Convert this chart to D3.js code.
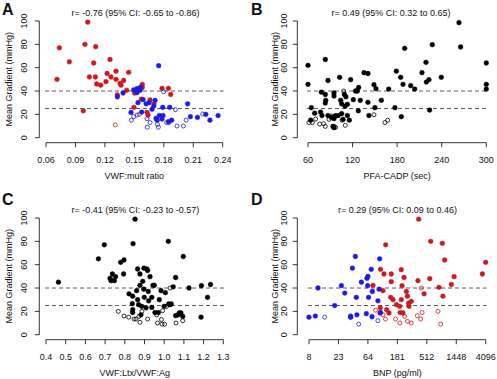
<!DOCTYPE html>
<html>
<head>
<meta charset="utf-8">
<script src="https://cdn.jsdelivr.net/npm/d3@7"></script>
<style>
  body { margin: 0; background: #fff; }
  svg text { font-family: "Liberation Sans", Arial, sans-serif; fill: #111; }
</style>
</head>
<body>
<svg id="chart" width="497" height="379"></svg>
<script>
// ---- data ----
// panel A: VWF:mult ratio vs mean gradient
var aRedFilled = [[0.0736,77],[0.1025,99],[0.0838,65],[0.0712,50],[0.0997,80],[0.1106,78],[0.1086,64],
  [0.1042,52],[0.1103,52],[0.1116,46],[0.1157,45],[0.1211,48],[0.1222,55],[0.1252,67],[0.1262,52],
  [0.1313,57],[0.1313,50],[0.1354,46.6],[0.1364,45],[0.1391,49],[0.1442,56],[0.1422,40.6],[0.098,23],
  [0.1327,36.6],[0.1503,38.3],[0.1496,26],[0.1581,45.7],[0.1581,43],[0.1571,33],[0.166,32.3],[0.1701,29],
  [0.1629,21.7],[0.164,19.4],[0.1782,42.3],[0.1847,42.3],[0.187,37]];
var aRedOpen = [[0.1306,11],[0.155,20]];
var aBlueFilled = [[0.1748,61.7],[0.1493,41],[0.1527,42],[0.155,42],[0.1561,43],[0.1527,38.6],[0.1558,40.6],
  [0.1385,38.3],[0.1327,35],[0.1537,30],[0.1589,32.6],[0.162,29],[0.165,30],[0.1711,32],[0.1697,27],
  [0.168,24.3],[0.1789,26],[0.186,26],[0.2043,29],[0.1466,21.7],[0.1575,22],[0.1755,19],[0.1792,19],
  [0.1721,16.6],[0.1732,15],[0.1782,16],[0.188,15],[0.1847,13.7],[0.2071,18],[0.2143,17.4],[0.2228,20],
  [0.227,15],[0.2353,19]];
var aBlueOpen = [[0.1799,39.4],[0.1469,15],[0.1493,18],[0.1527,19.4],[0.1629,16.3],[0.166,13],[0.1632,9],
  [0.1735,11.4],[0.1745,9],[0.1829,13],[0.1853,13],[0.1918,24],[0.1935,10],[0.2,10],[0.2027,15],[0.2196,20.3]];

// panel B: PFA-CADP (sec) vs mean gradient
var bFilled = [[60,62],[60,45.7],[64.5,25.7],[63.6,15],[83.3,67],[86.9,49],[102.6,51.7],[78,39],[83.8,32],
  [83.3,29.7],[83.3,37],[95,35.7],[95,38.3],[109,37],[111,35],[104,32],[105.3,29],[110,27],[113,28.6],
  [117.4,49.7],[121,32.6],[124,40],[126.4,40],[128.2,43],[127.7,23],[130.4,32],[135.4,55.7],[140.7,55],
  [140.7,30.3],[142,19],[148.8,45.4],[151.5,42],[150,25.7],[158.7,32],[168.6,41.7],[178.9,57],[177,25.7],
  [184.7,51.7],[185.6,18],[187.9,45.7],[190.1,76.6],[198.2,44.6],[203.6,41.7],[213.4,55.7],[218.8,64.6],
  [219.3,47.7],[222.8,49.7],[223.7,23.7],[227.3,79.7],[239.4,51.7],[263.2,98.6],[265.4,77.7],[300,64],
  [300,45.7],[300,41.7],[69,21],[77,22],[78.8,19],[86.9,19],[91.4,17.4],[95,16.3],[96.8,18.6],[100.8,19],
  [105.3,20.6],[107.2,15.7],[113,19],[115.6,15],[93.6,9.7],[95,8.6]];
var bOpen = [[61.3,13],[65.8,13],[70.3,16],[75.7,11.7],[81,12],[83.3,9.7],[88.3,15.7],[91.4,18.6],
  [97.2,19],[95,9.7],[97.2,8.9],[105.8,15],[108,40],[110.2,10.6],[148.8,19.7],[163.6,13],[167.2,15]];

// panel C: VWF:Ltx/VWF:Ag vs mean gradient
var cFilled = [[0.463,45],[0.666,65],[0.696,77],[0.725,48.3],[0.73,46.3],[0.737,52],[0.753,49.7],[0.747,46.3],
  [0.779,62],[0.796,64],[0.794,52],[0.821,35],[0.84,33],[0.838,26.6],[0.84,21.4],[0.84,19],[0.842,78],
  [0.852,99],[0.865,56.3],[0.86,37.7],[0.865,30],[0.87,25.7],[0.877,52],[0.877,42.3],[0.882,17],
  [0.891,45.7],[0.886,24.3],[0.897,57],[0.896,39],[0.899,32],[0.911,56.3],[0.908,23],[0.916,55],
  [0.919,37],[0.921,29],[0.928,49.7],[0.937,32],[0.937,23.4],[0.943,42.3],[0.95,42.3],[0.953,19],
  [0.97,19],[0.975,30],[0.984,37.7],[1.006,36],[1.0,24.3],[1.021,80],[1.023,26.3],[1.03,25.7],
  [1.036,26.3],[1.046,41],[1.058,49],[1.058,16.3],[1.07,17],[1.077,18.6],[1.085,18.6],[1.094,15.7],
  [1.097,67],[1.126,40],[1.189,42],[1.187,15],[1.22,32],[1.235,43]];
var cOpen = [[0.767,20],[0.796,16],[0.82,15],[0.847,13.4],[0.857,13.4],[0.872,15.7],[0.877,10.6],
  [0.887,20],[0.916,13.4],[0.962,17],[0.966,10],[0.986,13],[0.989,9],[1.002,9],[0.992,20.6],
  [1.012,24.3],[1.03,40],[1.06,10],[1.094,12]];

// panel D: BNP (pg/ml) vs mean gradient
var dBlueFilled = [[8,15],[10,16],[11,40],[19.8,25],[25.1,42],[28.3,35.7],[34.8,16],[34.8,15],[37,57],
  [41.1,67],[42.5,32],[50.9,45],[43.4,17],[60.5,18],[62,48.3],[64,50],[63.4,42],[65.6,32],[72,56],
  [74.8,37],[74,15.4],[91.2,29],[97,65],[95,39],[100,19]];
var dBlueOpen = [[13.9,15],[34.8,15],[46.2,9],[91,12]];
var dRedFilled = [[76.6,42.3],[100,56],[112.8,52],[109,37.7],[99.4,23],[98,18.6],[119.8,77],[124,21.4],
  [134.8,18.6],[146,52],[146,45.4],[143,32],[155,30],[175,25.7],[196.6,24.3],[208,55.7],[213.6,42],
  [229,49],[208,30],[221,18.6],[200,19],[249,37],[258,33],[270.6,27],[273,24.3],[296,28.6],[374,46.3],
  [385,99],[465,35],[568,48],[588,80],[787,40.6],[885,78.3],[904,33],[962,64],[1218,43],[1341,49.7],
  [3640,52],[4096,62]];
var dRedOpen = [[84,21],[109,17],[119,13.4],[170,13.4],[198,10],[234,15.7],[258,11.4],[296,10],
  [367,16.3],[413,13.4],[422,40],[433,19],[760,20],[837,9]];

// ticks and labels
var yTicks = [0, 20, 40, 60, 80, 100];
var cutoffs = [25, 40];
var aTicks = [0.06, 0.09, 0.12, 0.15, 0.18, 0.21, 0.24];
var bTicks = [60, 120, 180, 240, 300];
var cTicks = [0.4, 0.5, 0.6, 0.7, 0.8, 0.9, 1.0, 1.1, 1.2, 1.3];
var dTicks = [8, Math.pow(2, 4.5), 64, Math.pow(2, 7.5), 512, Math.pow(2, 10.5), 4096];
var titles = ["r= -0.76 (95% CI: -0.65 to -0.86)", "r= 0.49 (95% CI: 0.32 to 0.65)",
              "r= -0.41 (95% CI: -0.23 to -0.57)", "r= 0.29 (95% CI: 0.09 to 0.46)"];
var xTitles = ["VWF:mult ratio", "PFA-CADP (sec)", "VWF:Ltx/VWF:Ag", "BNP (pg/ml)"];
var letters = ["A", "B", "C", "D"];

var RED = "#c91b1f", BLUE = "#1c1ce0", BLACK = "#000";

var svg = d3.select("#chart");

var panels = [
  { x: d3.scaleLinear().domain([0.06, 0.24]).range([46, 222.7]), ticks: aTicks, fmt: d3.format(".2f"),
    top: 0, letterY: 14.5, letterX: 2, spineX: 39.3, tickLabX: 24, yTitleX: 8.5, titleX: 135.5,
    series: [[aRedFilled, RED, true], [aRedOpen, RED, false], [aBlueFilled, BLUE, true], [aBlueOpen, BLUE, false]] },
  { x: d3.scaleLinear().domain([60, 300]).range([308, 486.3]), ticks: bTicks, fmt: d3.format("d"),
    top: 0, letterY: 14.5, letterX: 251, spineX: 297.3, tickLabX: 284, yTitleX: 275, titleX: 391,
    series: [[bFilled, BLACK, true], [bOpen, BLACK, false]] },
  { x: d3.scaleLinear().domain([0.4, 1.3]).range([46, 223.3]), ticks: cTicks, fmt: d3.format(".1f"),
    top: 197, letterY: 204.5, letterX: 2, spineX: 39.3, tickLabX: 24, yTitleX: 8.5, titleX: 135.3,
    series: [[cFilled, BLACK, true], [cOpen, BLACK, false]] },
  { x: d3.scaleLog().base(2).domain([8, 4096]).range([309, 485.7]), ticks: dTicks, fmt: function(v) { return Math.round(v); },
    top: 197, letterY: 204.5, letterX: 251, spineX: 297.3, tickLabX: 284, yTitleX: 275, titleX: 397.5,
    series: [[dRedFilled, RED, true], [dRedOpen, RED, false], [dBlueFilled, BLUE, true], [dBlueOpen, BLUE, false]] }
];

panels.forEach(function(p, i) {
  var y = d3.scaleLinear().domain([0, 100]).range([p.top + 137.7, p.top + 21]);
  var g = svg.append("g");
  var x0 = p.x.range()[0], x1 = p.x.range()[1];

  // panel letter
  g.append("text").attr("x", p.letterX).attr("y", p.letterY)
    .attr("font-size", 16).attr("font-weight", "bold").text(letters[i]);

  // correlation title
  g.append("text").attr("x", p.titleX).attr("y", p.top + 16).attr("text-anchor", "middle")
    .attr("font-size", 9).text(titles[i]);

  // y axis
  g.append("line").attr("x1", p.spineX).attr("x2", p.spineX).attr("y1", y(0)).attr("y2", y(100))
    .attr("stroke", "#000").attr("stroke-width", 0.8);
  yTicks.forEach(function(t) {
    g.append("line").attr("x1", p.spineX - 4.5).attr("x2", p.spineX).attr("y1", y(t)).attr("y2", y(t))
      .attr("stroke", "#000").attr("stroke-width", 0.8);
    g.append("text").attr("transform", "translate(" + p.tickLabX + "," + y(t) + ") rotate(-90)")
      .attr("text-anchor", "middle").attr("dy", "0.35em").attr("font-size", 9).text(t);
  });
  g.append("text").attr("transform", "translate(" + p.yTitleX + "," + y(50) + ") rotate(-90)")
    .attr("text-anchor", "middle").attr("dy", "0.35em").attr("font-size", 9).text("Mean Gradient (mmHg)");

  // x axis
  var axY = p.top + 142.7;
  g.append("line").attr("x1", x0).attr("x2", x1).attr("y1", axY).attr("y2", axY)
    .attr("stroke", "#000").attr("stroke-width", 0.8);
  p.ticks.forEach(function(t) {
    g.append("line").attr("x1", p.x(t)).attr("x2", p.x(t)).attr("y1", axY).attr("y2", axY + 4.5)
      .attr("stroke", "#000").attr("stroke-width", 0.8);
    g.append("text").attr("x", p.x(t)).attr("y", p.top + 162.5).attr("text-anchor", "middle")
      .attr("font-size", 9).text(p.fmt(t));
  });
  g.append("text").attr("x", (x0 + x1) / 2).attr("y", p.top + 178.5).attr("text-anchor", "middle")
    .attr("font-size", 9).text(xTitles[i]);

  // cutoff lines
  cutoffs.forEach(function(c) {
    g.append("line").attr("x1", x0 - 1).attr("x2", x1 + 1).attr("y1", y(c)).attr("y2", y(c))
      .attr("stroke", "#333").attr("stroke-width", 0.8).attr("stroke-dasharray", "4,3");
  });

  // points
  p.series.forEach(function(s) {
    g.append("g").selectAll("circle").data(s[0]).join("circle")
      .attr("cx", function(d) { return p.x(d[0]); })
      .attr("cy", function(d) { return y(d[1]); })
      .attr("r", s[2] ? 2.4 : 2.0)
      .attr("fill", s[2] ? s[1] : "none")
      .attr("stroke", s[1])
      .attr("stroke-width", s[2] ? 0.4 : 0.8);
  });
});
</script>
</body>
</html>
